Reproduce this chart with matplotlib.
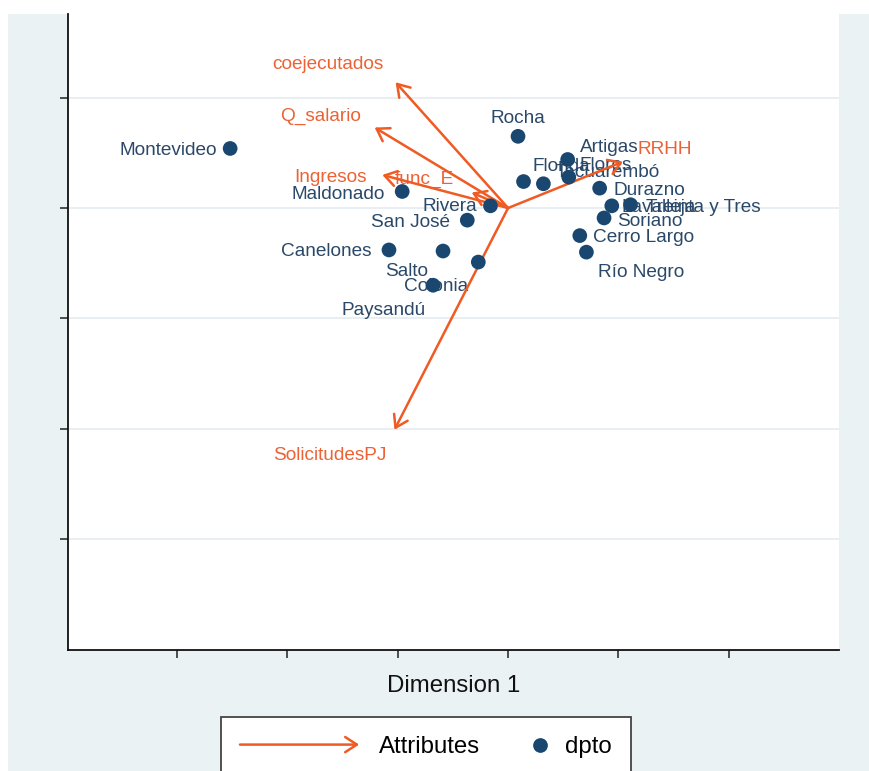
import matplotlib
matplotlib.use("Agg")
import matplotlib.pyplot as plt
from matplotlib.patches import Rectangle, FancyArrowPatch
from matplotlib.lines import Line2D
from matplotlib.legend_handler import HandlerBase

plt.rcParams['font.family'] = ['Liberation Sans', 'DejaVu Sans']

# Department scores on the first two dimensions
dptos = ["Montevideo", "Rocha", "Artigas", "Flores", "Florida", "Tacuarembó",
         "Durazno", "Lavalleja", "Treinta y Tres", "Soriano", "Cerro Largo",
         "Río Negro", "Maldonado", "Rivera", "San José", "Canelones", "Salto",
         "Colonia", "Paysandú"]
dim1 = [-2.52, 0.09, 0.54, 0.55, 0.14, 0.32, 0.83, 0.94, 1.11, 0.87, 0.65,
        0.71, -0.96, -0.16, -0.37, -1.08, -0.59, -0.27, -0.68]
dim2 = [0.54, 0.65, 0.44, 0.28, 0.24, 0.22, 0.18, 0.02, 0.03, -0.09, -0.25,
        -0.40, 0.15, 0.02, -0.11, -0.38, -0.39, -0.49, -0.70]

# Attribute loadings (arrows from the origin)
attributes = ["coejecutados", "Q_salario", "Ingresos", "func_E", "RRHH", "SolicitudesPJ"]
att_dim1 = [-1.02, -1.21, -1.14, -0.33, 1.04, -1.03]
att_dim2 = [1.14, 0.73, 0.30, 0.14, 0.42, -2.01]

# Label placement: (dx, dy) in pixels (dy positive = up) and horizontal alignment
dpto_label_place = {
    "Montevideo": (-13, -2, 'right'), "Rocha": (0, 18, 'center'),
    "Artigas": (12, 12, 'left'), "Flores": (11, 12, 'left'),
    "Florida": (9, 15, 'left'), "Tacuarembó": (12, 11, 'left'),
    "Durazno": (14, -2, 'left'), "Lavalleja": (10, -2, 'left'),
    "Treinta y Tres": (15, -3, 'left'), "Soriano": (13, -4, 'left'),
    "Cerro Largo": (13, -2, 'left'), "Río Negro": (12, -20, 'left'),
    "Maldonado": (-17, -3, 'right'), "Rivera": (-13, -1, 'right'),
    "San José": (-17, -2, 'right'), "Canelones": (-17, -2, 'right'),
    "Salto": (-15, -20, 'right'), "Colonia": (-10, -24, 'right'),
    "Paysandú": (-7, -25, 'right'),
}
att_label_place = {
    "coejecutados": (-12, 18, 'right'), "Q_salario": (-14, 11, 'right'),
    "Ingresos": (-16, -3, 'right'), "func_E": (-18, 13, 'right'),
    "RRHH": (15, 12, 'left'), "SolicitudesPJ": (-8, -26, 'right'),
}

DOT_COLOR = '#1a476f'
DOT_TEXT = '#2a4868'
ARROW_COLOR = '#f05a23'
ARROW_TEXT = '#ec6235'
BG = '#eaf2f3'
ARROWSTYLE = '->,head_length=0.4,head_width=0.26'

W, H = 870, 771
fig = plt.figure(figsize=(W / 100, H / 100), dpi=100, facecolor='white')
fig.patches.append(Rectangle((8 / W, 0), 1 - 8 / W, (H - 14) / H,
                             transform=fig.transFigure, facecolor=BG,
                             edgecolor='none', zorder=-5))

ax = fig.add_axes([68 / W, (H - 650) / H, (839 - 68) / W, (650 - 14) / H])
ax.set_facecolor('white')
ax.set_xlim(-3.99, 3.0)
ax.set_ylim(-4.007, 1.759)

ax.set_xticks([-3, -2, -1, 0, 1, 2])
ax.set_yticks([-3, -2, -1, 0, 1])
ax.tick_params(axis='both', direction='out', length=5.8, width=1.1,
               labelbottom=False, labelleft=False, color='#222222')
ax.yaxis.grid(True, color='#e6edf0', linewidth=1.3)
ax.xaxis.grid(False)
ax.set_axisbelow(True)
for s in ('top', 'right'):
    ax.spines[s].set_visible(False)
for s in ('left', 'bottom'):
    ax.spines[s].set_linewidth(1.3)
    ax.spines[s].set_color('#111111')

# Department labels, then arrows, then markers on top
for name, x, y in zip(dptos, dim1, dim2):
    dx, dy, ha = dpto_label_place[name]
    ax.annotate(name, (x, y), xytext=(dx, dy), textcoords='offset pixels',
                ha=ha, va='center', fontsize=13.7, color=DOT_TEXT, zorder=2)

for name, x, y in zip(attributes, att_dim1, att_dim2):
    dx, dy, ha = att_label_place[name]
    ax.annotate(name, (x, y), xytext=(dx, dy), textcoords='offset pixels',
                ha=ha, va='center', fontsize=13.7, color=ARROW_TEXT, zorder=2)
    ax.annotate('', xy=(x, y), xytext=(0, 0),
                arrowprops=dict(arrowstyle=ARROWSTYLE, color=ARROW_COLOR,
                                lw=1.8, mutation_scale=21, shrinkA=0, shrinkB=0),
                zorder=3)

dots = ax.scatter(dim1, dim2, s=112, color=DOT_COLOR, edgecolors='none', zorder=4)

ax.set_xlabel("Dimension 1", fontsize=17.3, va='center', color='#111111')
ax.xaxis.set_label_coords(0.5, -(686 - 650) / 636)


class ArrowHandler(HandlerBase):
    def create_artists(self, legend, orig_handle, xdescent, ydescent,
                       width, height, fontsize, trans):
        y = height / 2 - ydescent
        arr = FancyArrowPatch((-xdescent, y), (-xdescent + width, y),
                              arrowstyle=ARROWSTYLE, color=ARROW_COLOR, lw=1.8,
                              mutation_scale=21, shrinkA=0, shrinkB=0,
                              transform=trans)
        return [arr]


class DotHandler(HandlerBase):
    def create_artists(self, legend, orig_handle, xdescent, ydescent,
                       width, height, fontsize, trans):
        y = height / 2 - ydescent
        x = -xdescent + width - 4.0
        dot = Line2D([x], [y], marker='o', markersize=10.6, color=DOT_COLOR,
                     markeredgewidth=0, linestyle='none', transform=trans)
        return [dot]


arrow_proxy = Line2D([], [], color=ARROW_COLOR)
leg = fig.legend([arrow_proxy, dots], ["Attributes", "dpto"],
                 handler_map={arrow_proxy: ArrowHandler(), dots: DotHandler()},
                 loc='center', bbox_to_anchor=(426 / W, (H - 747) / H),
                 bbox_transform=fig.transFigure, ncol=2, fontsize=17.3,
                 handlelength=4.96, handletextpad=0.83, columnspacing=-2.25,
                 borderpad=0.78, fancybox=False, framealpha=1,
                 edgecolor='#444444', facecolor='white')
leg.get_frame().set_linewidth(1.3)

fig.savefig("out.png", dpi=100, facecolor=fig.get_facecolor())
